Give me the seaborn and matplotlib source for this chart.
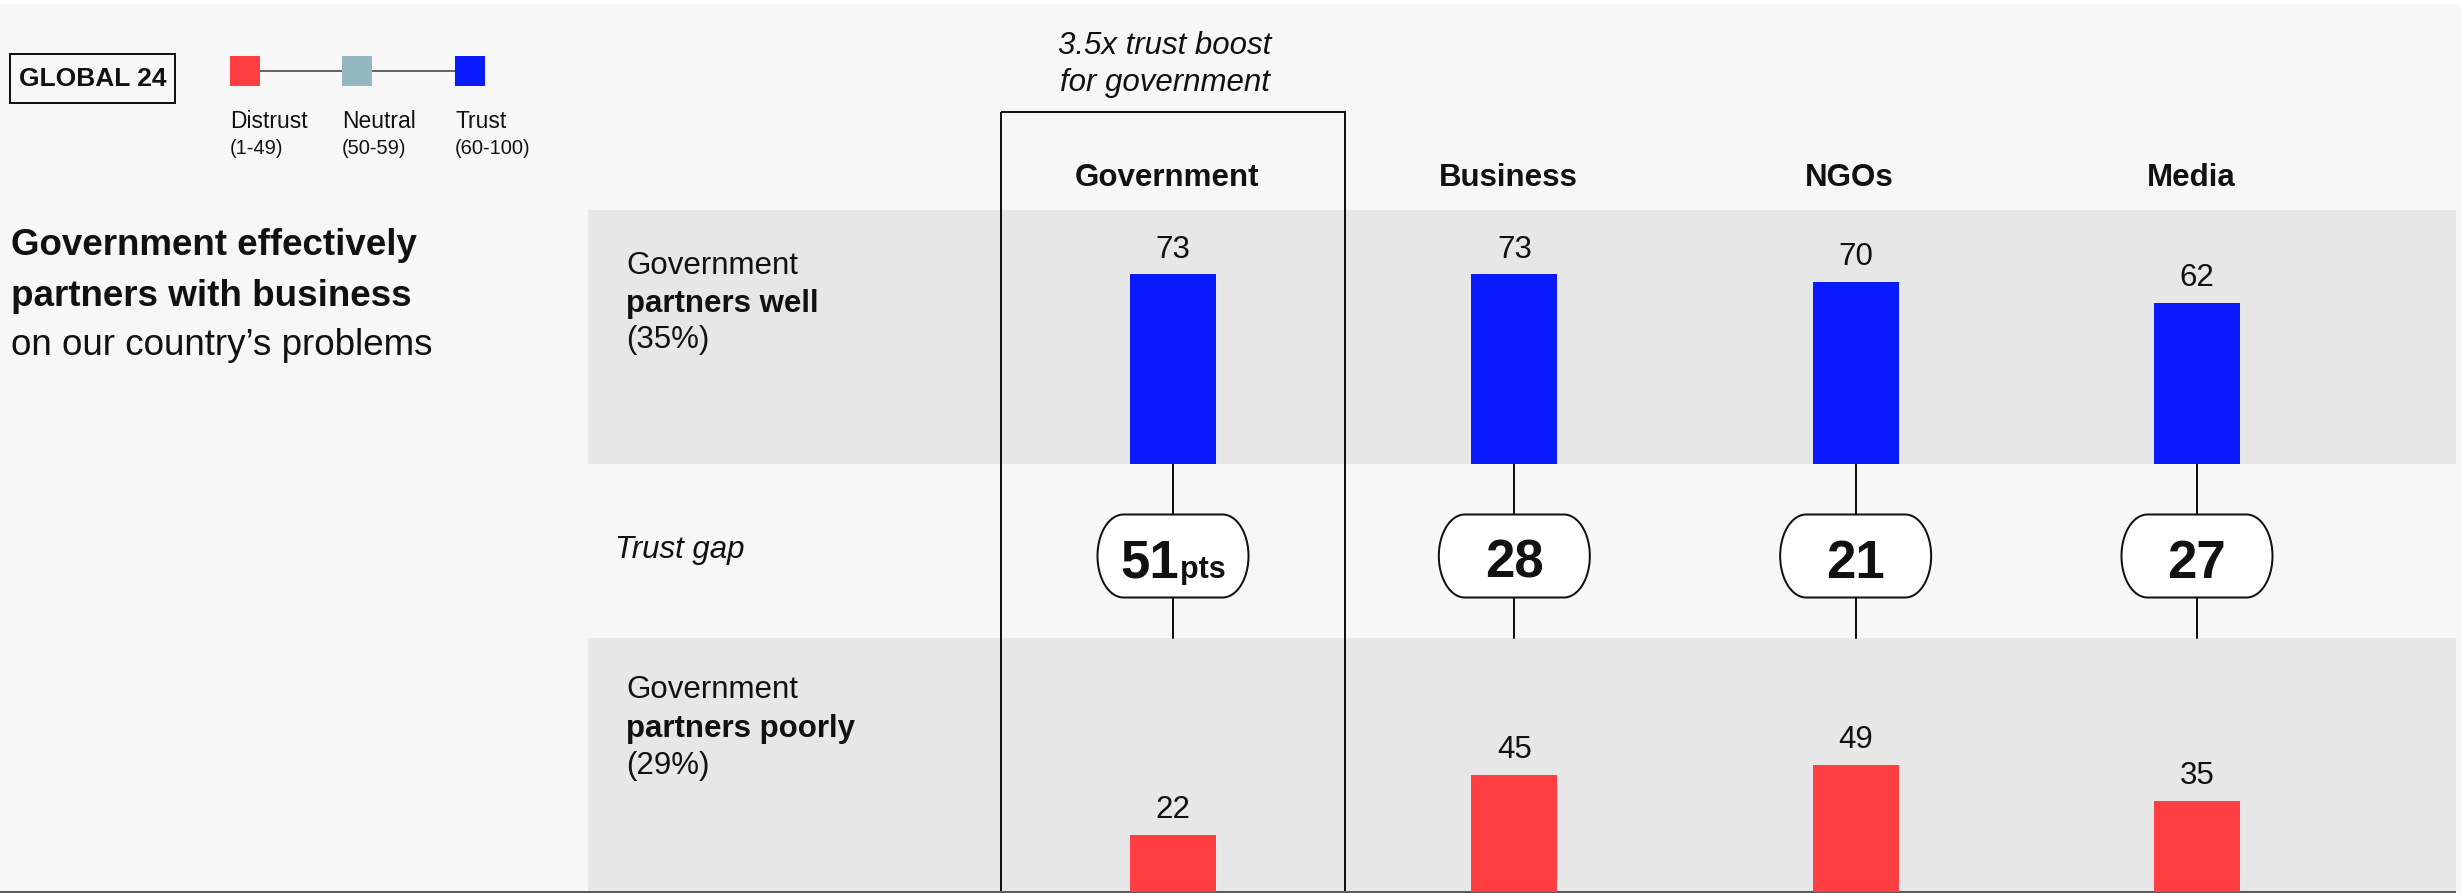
import matplotlib
matplotlib.use("Agg")
import matplotlib.pyplot as plt
from matplotlib.patches import Rectangle, Polygon
import numpy as np
import pandas as pd
import seaborn as sns

# ---- data -------------------------------------------------------------
institutions = ["Government", "Business", "NGOs", "Media"]
trust_partners_well = [73, 73, 70, 62]
trust_partners_poorly = [22, 45, 49, 35]
trust_gap = [51, 28, 21, 27]
legend_labels = ["Distrust", "Neutral", "Trust"]
legend_ranges = ["(1-49)", "(50-59)", "(60-100)"]
row_shares = ["(35%)", "(29%)"]

# ---- style ------------------------------------------------------------
W, H, DPI = 2461, 893, 100
RED, NEUTRAL, BLUE = "#FF3E42", "#93B8BF", "#0A1AFF"
BG, BAND, INK = "#F7F7F7", "#E7E7E7", "#111111"
PX = 72 / DPI  # points per pixel

sns.set_theme(style="white")
plt.rcParams["font.family"] = ["Liberation Sans", "DejaVu Sans"]

# column geometry (pixels)
COL0, COL_STEP = 1173, 341.33
AX_LEFT = COL0 - COL_STEP / 2
AX_WIDTH = COL_STEP * len(institutions)
PX_PER_UNIT = 2.6
UPPER_BASE, LOWER_BASE = 464, 892


def col_x(i):
    return COL0 + i * COL_STEP


def pill_outline(cx, cy, w, h, rx):
    """Capsule with flat top/bottom and half-elliptical ends."""
    ry = h / 2
    t = np.linspace(-np.pi / 2, np.pi / 2, 60)
    right = np.column_stack([cx + w / 2 - rx + rx * np.cos(t), cy + ry * np.sin(t)])
    left = np.column_stack([cx - w / 2 + rx - rx * np.cos(t), cy - ry * np.sin(t)])
    return np.vstack([right, left])


fig = plt.figure(figsize=(W / DPI, H / DPI), dpi=DPI, facecolor=BG)

# background layer in pixel coordinates (y grows downward)
bg = fig.add_axes([0, 0, 1, 1], zorder=0)
bg.set_xlim(0, W)
bg.set_ylim(H, 0)
bg.axis("off")
bg.set_facecolor(BG)

bg.add_patch(Rectangle((0, 0), W, 4, fc="white", ec="none"))
bg.add_patch(Rectangle((588, 210), 2456 - 588, UPPER_BASE - 210, fc=BAND, ec="none"))
bg.add_patch(Rectangle((588, 638), 2456 - 588, LOWER_BASE - 638, fc=BAND, ec="none"))
bg.add_patch(Rectangle((0, 891), 2456, 4, fc="#5A5A5A", ec="none", zorder=5))

# "GLOBAL 24" tag
bg.add_patch(Rectangle((10, 54), 165, 49, fc="none", ec=INK, lw=2 * PX))
bg.text(92.5, 79, "GLOBAL 24", fontsize=19, fontweight="bold", color=INK,
        ha="center", va="center")

# colour key
key_x = [230, 342, 455]
key_colors = [RED, NEUTRAL, BLUE]
bg.plot([245, 470], [71, 71], color="#666666", lw=2 * PX, zorder=1)
for x, c, lab, rng in zip(key_x, key_colors, legend_labels, legend_ranges):
    bg.add_patch(Rectangle((x, 56), 30, 30, fc=c, ec="none", zorder=2))
    bg.text(x, 128, lab, fontsize=16.5, color=INK, ha="left", va="baseline")
    bg.text(x, 154, rng, fontsize=14.5, color=INK, ha="left", va="baseline")

# headline
bg.text(11, 255, "Government effectively", fontsize=26.5, fontweight="bold",
        color=INK, va="baseline")
bg.text(11, 306, "partners with business", fontsize=26.5, fontweight="bold",
        color=INK, va="baseline")
bg.text(11, 355, "on our country\u2019s problems", fontsize=26.5, color=INK,
        va="baseline")

# row labels
bg.text(626, 274, "Government", fontsize=22.5, color=INK, va="baseline")
bg.text(626, 312, "partners well", fontsize=22.5, fontweight="bold", color=INK,
        va="baseline")
bg.text(626, 348, row_shares[0], fontsize=22.5, color=INK, va="baseline")
bg.text(626, 698, "Government", fontsize=22.5, color=INK, va="baseline")
bg.text(626, 737, "partners poorly", fontsize=22.5, fontweight="bold", color=INK,
        va="baseline")
bg.text(626, 774, row_shares[1], fontsize=22.5, color=INK, va="baseline")
bg.text(615, 558, "Trust gap", fontsize=22.5, style="italic", color=INK,
        va="baseline")

# highlight box around the government column
bg.add_patch(Rectangle((1001, 112), 344, 800, fc="none", ec=INK, lw=2 * PX,
                       zorder=4))
bg.text(1165, 54, "3.5x trust boost", fontsize=22.5, style="italic", color=INK,
        ha="center", va="baseline")
bg.text(1165, 91, "for government", fontsize=22.5, style="italic", color=INK,
        ha="center", va="baseline")

# column headers
for i, name in enumerate(institutions):
    bg.text(col_x(i) - 6, 186, name, fontsize=22.5, fontweight="bold",
            color=INK, ha="center", va="baseline")

# connectors and trust-gap pills
renderer = fig.canvas.get_renderer()
for i, gap in enumerate(trust_gap):
    cx = col_x(i)
    bg.plot([cx, cx], [UPPER_BASE, 638], color=INK, lw=2 * PX, zorder=2)
    bg.add_patch(Polygon(pill_outline(cx, 556, 151, 83, 26), closed=True,
                         fc="white", ec=INK, lw=2 * PX, zorder=3))
    if i == 0:
        t1 = bg.text(0, 578, f"{gap}", fontsize=38, fontweight="bold",
                     color=INK, ha="left", va="baseline", zorder=4)
        t2 = bg.text(0, 578, "pts", fontsize=22, fontweight="bold",
                     color=INK, ha="left", va="baseline", zorder=4)
        w1 = t1.get_window_extent(renderer).width
        w2 = t2.get_window_extent(renderer).width
        start = cx - (w1 + w2) / 2
        t1.set_x(start)
        t2.set_x(start + w1 + 1)
    else:
        bg.text(cx, 578, f"{gap}", fontsize=38, fontweight="bold", color=INK,
                ha="center", va="baseline", zorder=4)


# ---- bar panels ---------------------------------------------------------
def panel(base_px, values, color):
    height_px = 100 * PX_PER_UNIT
    ax = fig.add_axes([AX_LEFT / W, (H - base_px) / H,
                       AX_WIDTH / W, height_px / H], zorder=1)
    df = pd.DataFrame({"institution": institutions, "score": values})
    sns.barplot(data=df, x="institution", y="score", color=color,
                saturation=1, width=0.252, linewidth=0, ax=ax)
    ax.set_xlim(-0.5, len(institutions) - 0.5)
    ax.set_ylim(0, 100)
    ax.set_facecolor("none")
    ax.axis("off")
    for i, v in enumerate(values):
        ax.annotate(f"{v}", xy=(i, v), xytext=(0, 12),
                    textcoords="offset points", ha="center", va="baseline",
                    fontsize=22.5, color=INK)
    return ax


panel(UPPER_BASE, trust_partners_well, BLUE)
panel(LOWER_BASE, trust_partners_poorly, RED)

fig.savefig("out.png", dpi=DPI, facecolor=BG)
